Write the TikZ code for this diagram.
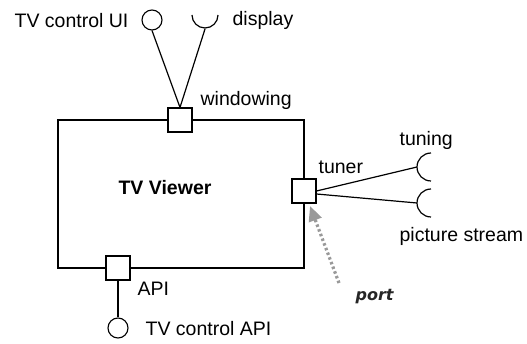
\documentclass[tikz,border=0pt]{standalone}
\usepackage{fontspec}
\setmainfont{Liberation Sans}
\newfontfamily\handfont{DejaVu Sans}
\usetikzlibrary{arrows.meta}
\begin{document}
\begin{tikzpicture}[x=1pt,y=-1pt,
  line width=1.2pt,
  lbl/.style={font=\fontsize{19.5}{22}\selectfont, inner sep=0pt},
  portbox/.style={draw, fill=white, minimum size=24pt, inner sep=0pt, line width=1.1pt},
  lolli/.style={draw, circle, minimum size=20pt, inner sep=0pt, line width=1.1pt},
  wire/.style={line width=1.2pt},
  sock/.style={line width=1.2pt}
]
\useasboundingbox (0,0) rectangle (527,344);
% component
\node[draw, line width=1.1pt, minimum width=246pt, minimum height=148pt, inner sep=0pt] (comp) at (181,194) {};
\node[lbl, font=\fontsize{19.5}{22}\selectfont\bfseries] (title) at (165,188) {TV Viewer};
% ports
\node[portbox] (win) at (180,120) {};
\node[portbox] (tun) at (304,191) {};
\node[portbox] (api) at (118,268) {};
% windowing
\node[lolli] (ui) at (152,20) {};
\coordinate (dispc) at (205,29);
\draw[sock] (218,15) arc[start angle=0, end angle=180, radius=13];
\draw[wire] (win.north) -- (ui.south);
\draw[wire] (win.north) -- (dispc);
\node[lbl, anchor=east] (uitxt) at (129,21) {TV control UI};
\node[lbl, anchor=west] (disptxt) at (232,20) {display};
\node[lbl, anchor=west] (wintxt) at (200,100) {windowing};
% tuner
\coordinate (tunc) at (417,167);
\coordinate (picc) at (417,203);
\draw[sock] (431,181) arc[start angle=90, end angle=270, radius=14];
\draw[sock] (431,217) arc[start angle=90, end angle=270, radius=14];
\draw[wire] (tun.east) -- (tunc);
\draw[wire] ([yshift=-3pt]tun.east) -- (picc);
\node[lbl, anchor=west] (tuntxt) at (318,167) {tuner};
\node[lbl, anchor=west] (tuningtxt) at (399,140) {tuning};
\node[lbl, anchor=west] (pictxt) at (399,236) {picture stream};
% api
\node[lolli] (capi) at (118,328) {};
\draw[wire] (api.south) -- (capi.north);
\node[lbl, anchor=west] (apitxt) at (137,289) {API};
\node[lbl, anchor=west] (capitxt) at (145,329) {TV control API};
% port annotation
\node[font=\handfont\fontsize{16}{18}\selectfont\bfseries\itshape, inner sep=0pt, anchor=west, text=black!85] (porttxt) at (355,297) {port};
\draw[gray!80, line width=3.2pt, dash pattern=on 2.5pt off 2.5pt, -{Triangle[length=15pt,width=13pt]}] (339,283) -- (310,206);
\end{tikzpicture}
\end{document}
